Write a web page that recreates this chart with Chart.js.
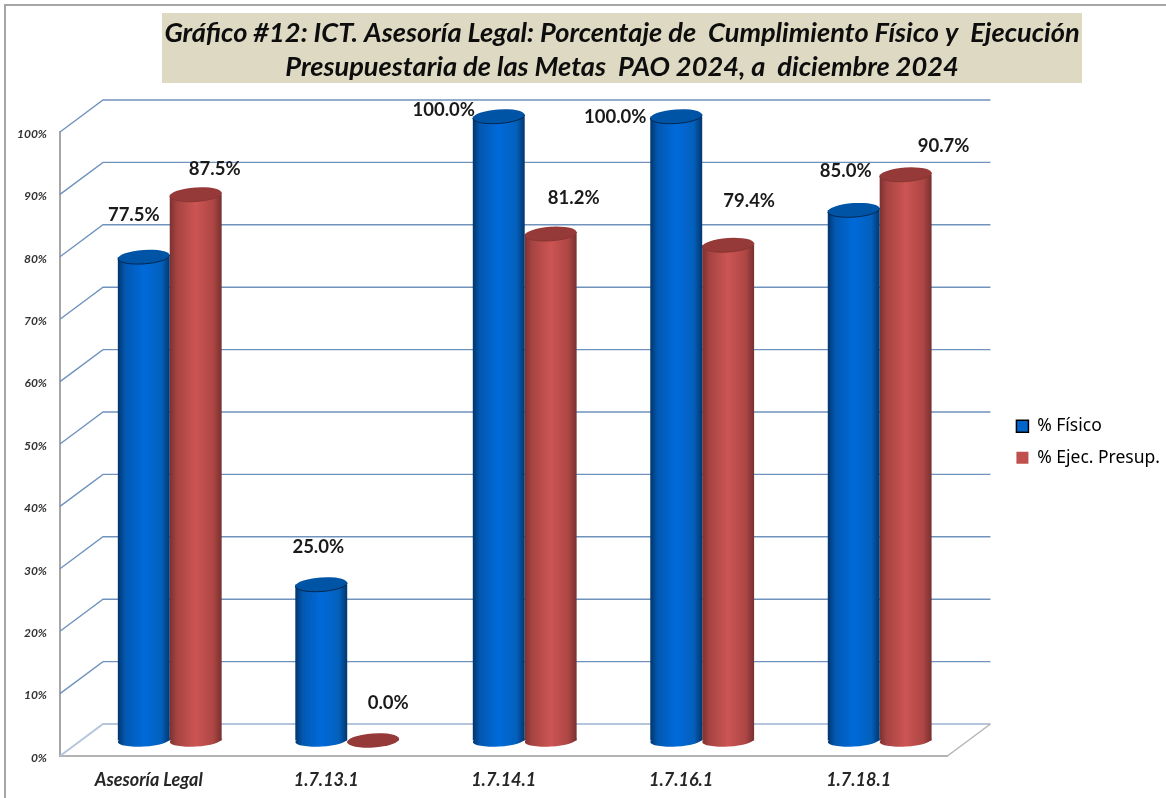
<!DOCTYPE html>
<html lang="es">
<head>
<meta charset="utf-8">
<title>Gráfico #12</title>
<script src="https://cdn.jsdelivr.net/npm/chart.js@4/dist/chart.umd.js"></script>
<style>
  html, body { margin: 0; padding: 0; background: #fff; }
  canvas { display: block; filter: blur(0.35px); }
</style>
</head>
<body>
<canvas id="grafico" width="1166" height="798"></canvas>
<script>
// Datos
const categorias = ["Asesoría Legal", "1.7.13.1", "1.7.14.1", "1.7.16.1", "1.7.18.1"];
const fisico = [77.5, 25.0, 100.0, 100.0, 85.0];
const ejecucion = [87.5, 0.0, 81.2, 79.4, 90.7];
const titulo = [
  "Gráfico #12: ICT. Asesoría Legal: Porcentaje de  Cumplimiento Físico y  Ejecución",
  "Presupuestaria de las Metas  PAO 2024, a  diciembre 2024"
];

// Estilo 3D: profundidad de la pared del fondo y medio camino para los cilindros
const FONDO_X = 43, FONDO_Y = 32;
const MEDIO_X = 21, MEDIO_Y = 15.5;
const ANCHO_CATEGORIA = 0.585;

const tonos = [
  { stops: ["#01356c", "#0358b0", "#006ada", "#0360bc", "#02366e"], tapa: "#0054a6", borde: "#00264f" },
  { stops: ["#7b3130", "#a64442", "#cc5553", "#ad4644", "#773030"], tapa: "#953a38", borde: "#8a3533" }
];

// Desplazamiento de cada etiqueta respecto a la tapa de su cilindro [dx, dy]
const ajusteEtiquetas = [
  [[-10, -42], [-3, -37], [-55, -6], [-61, 1], [-8, -39]],
  [[19, -25], [15, -37], [23, -36], [21, -44], [38, -29]]
];

function gradienteCilindro(c) {
  const x = c.chart.scales.x;
  if (!x || c.dataIndex === undefined) return tonos[c.datasetIndex].stops[2];
  const w = (x.width / categorias.length) * ANCHO_CATEGORIA / 2;
  const izq = x.getPixelForValue(c.dataIndex) + (c.datasetIndex - 1) * w;
  const g = c.chart.ctx.createLinearGradient(izq, 0, izq + w, 0);
  [0, 0.14, 0.5, 0.84, 1].forEach((p, i) => g.addColorStop(p, tonos[c.datasetIndex].stops[i]));
  return g;
}

const plugin3d = {
  id: "plugin3d",
  afterLayout(chart) {
    // El título va centrado sobre la banda, no sobre el lienzo
    chart.titleBlock.left += 39;
    chart.titleBlock.right += 39;
    chart.legend.left += 4;
    chart.legend.right += 4;
    chart.legend.top -= 2;
    chart.legend.bottom -= 2;
  },
  beforeDraw(chart) {
    const { ctx } = chart;
    ctx.save();
    // Marco exterior
    ctx.strokeStyle = "#a6a6a6";
    ctx.lineWidth = 2;
    ctx.beginPath();
    ctx.moveTo(5, 798);
    ctx.lineTo(5, 5);
    ctx.lineTo(1166, 5);
    ctx.stroke();
    // Banda del título
    ctx.fillStyle = "#ddd9c3";
    ctx.fillRect(162, 13, 920, 70);
    ctx.restore();
  },
  beforeDatasetsDraw(chart) {
    const { ctx, chartArea, scales } = chart;
    ctx.save();
    // Rejilla: pared del fondo y pared lateral
    scales.y.ticks.forEach((t) => {
      const y = scales.y.getPixelForValue(t.value);
      ctx.strokeStyle = t.value === 0 ? "#b4c5dc" : "#6f93bd";
      ctx.lineWidth = t.value === 0 ? 2 : 1.4;
      ctx.beginPath();
      ctx.moveTo(chartArea.left, y);
      ctx.lineTo(chartArea.left + FONDO_X, y - FONDO_Y);
      ctx.lineTo(chartArea.right + FONDO_X, y - FONDO_Y);
      ctx.stroke();
    });
    // Borde derecho del piso
    ctx.strokeStyle = "#b3b3b3";
    ctx.lineWidth = 1.4;
    ctx.beginPath();
    ctx.moveTo(chartArea.right, chartArea.bottom);
    ctx.lineTo(chartArea.right + FONDO_X, chartArea.bottom - FONDO_Y);
    ctx.stroke();
    ctx.restore();
    // Los cilindros se dibujan a media profundidad
    ctx.save();
    ctx.translate(MEDIO_X, -MEDIO_Y);
  },
  beforeDatasetDraw(chart, args) {
    const { ctx } = chart;
    args.meta.data.forEach((el) => {
      ctx.beginPath();
      ctx.ellipse(el.x, el.base, el.width / 2, 6, -0.06, 0, Math.PI * 2);
      ctx.fillStyle = el.options.backgroundColor;
      ctx.fill();
    });
  },
  afterDatasetDraw(chart, args) {
    const { ctx } = chart;
    const tono = tonos[args.index];
    args.meta.data.forEach((el, i) => {
      ctx.beginPath();
      ctx.ellipse(el.x, el.y, el.width / 2, 7, -0.07, 0, Math.PI * 2);
      ctx.fillStyle = tono.tapa;
      ctx.fill();
      if (chart.data.datasets[args.index].data[i] > 0) {
        ctx.beginPath();
        ctx.ellipse(el.x, el.y, el.width / 2, 7, -0.07, 0, Math.PI);
        ctx.strokeStyle = tono.borde;
        ctx.lineWidth = 1;
        ctx.stroke();
      }
    });
  },
  afterDatasetsDraw(chart) {
    const { ctx } = chart;
    ctx.font = "bold 18.5px Lato";
    ctx.fillStyle = "#1a1a1a";
    ctx.textAlign = "center";
    ctx.textBaseline = "middle";
    chart.data.datasets.forEach((ds, d) => {
      chart.getDatasetMeta(d).data.forEach((el, i) => {
        const [dx, dy] = ajusteEtiquetas[d][i];
        ctx.fillText(ds.data[i].toFixed(1) + "%", el.x + dx, el.y + dy);
      });
    });
    ctx.restore();
  }
};

new Chart(document.querySelector("#grafico"), {
  type: "bar",
  data: {
    labels: categorias,
    datasets: [
      { label: "% Físico", data: fisico, backgroundColor: gradienteCilindro, clip: false },
      { label: "% Ejec. Presup.", data: ejecucion, backgroundColor: gradienteCilindro, clip: false }
    ]
  },
  plugins: [plugin3d],
  options: {
    responsive: false,
    animation: false,
    events: [],
    layout: { padding: 0 },
    datasets: { bar: { categoryPercentage: ANCHO_CATEGORIA, barPercentage: 1, borderWidth: 0 } },
    scales: {
      x: {
        grid: { display: false },
        border: { color: "#b3b3b3", width: 2 },
        ticks: { color: "#262626", padding: 5, maxRotation: 0, font: { family: "Lato", size: 18, style: "italic", weight: "bold" } },
        afterFit(s) { s.height = 42; }
      },
      y: {
        min: 0,
        max: 100,
        grid: { display: false },
        border: { color: "#a6a6a6", width: 2 },
        ticks: {
          stepSize: 10,
          color: "#333",
          padding: 5,
          labelOffset: 2,
          callback: (v) => v + "%",
          font: { family: "Lato", size: 12, style: "italic", weight: "bold" }
        },
        afterFit(s) { s.width = 60; }
      },
      // Eje vacío: deja el hueco entre el piso y la leyenda
      hueco: {
        position: "right",
        grid: { display: false },
        border: { display: false },
        ticks: { display: false },
        afterFit(s) { s.width = 51; }
      }
    },
    plugins: {
      tooltip: { enabled: false },
      title: {
        display: true,
        text: titulo,
        color: "#0d0d0d",
        padding: { top: 16, bottom: 48 },
        font: { family: "Lato", size: 27.2, style: "italic", weight: "bold", lineHeight: 1.25 }
      },
      legend: {
        position: "right",
        fullSize: false,
        labels: {
          boxWidth: 12,
          boxHeight: 12,
          padding: 14,
          color: "#262626",
          font: { family: "Noto Sans", size: 17.5 },
          generateLabels: () => [
            { text: "% Físico", fillStyle: "#0066cc", strokeStyle: "#000", lineWidth: 1.5 },
            { text: "% Ejec. Presup.", fillStyle: "#c0504d", strokeStyle: "#c0504d", lineWidth: 0 }
          ]
        }
      }
    }
  }
});
</script>
</body>
</html>
